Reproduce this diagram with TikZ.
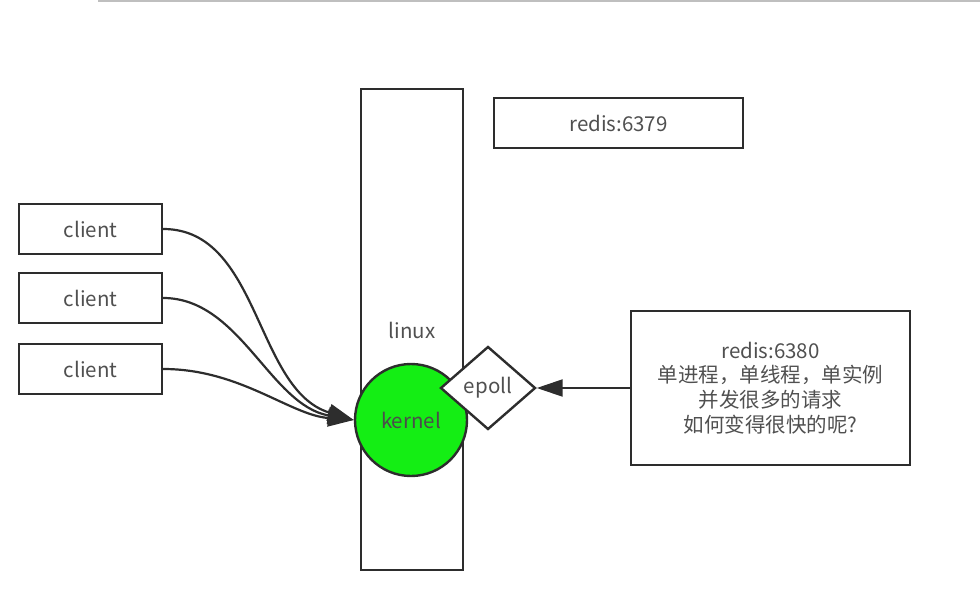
\documentclass[tikz,border=0pt]{standalone}
\usepackage{fontspec}
\setmainfont{Noto Sans CJK SC}
\usetikzlibrary{shapes.geometric,arrows.meta,positioning}
\definecolor{kgreen}{RGB}{20,238,20}
\definecolor{linegray}{RGB}{45,45,45}
\definecolor{textgray}{RGB}{80,80,80}

\begin{document}
\begin{tikzpicture}[
    x=1pt, y=-1pt,
    every node/.style={font=\fontsize{20.5}{24.7}\selectfont, text=textgray},
    box/.style={rectangle, draw=linegray, line width=2.4pt, inner sep=0pt},
    arrow/.style={-{Triangle[length=26pt,width=17pt]}, line width=2.2pt, draw=linegray}
]
    \useasboundingbox (0,0) rectangle (980,605);
    \draw[gray!50, line width=1.5pt] (98,1) -- (980,1);

    \node[box, minimum width=102pt, minimum height=481pt] (linux) at (412,329.5) {};
    \node at (412,330) {linux};
    \node[box, minimum width=249pt, minimum height=50pt] (redisa) at (618.5,123) {redis:6379};

    \node[box, minimum width=143pt, minimum height=50pt] (c1) at (90.5,229) {client};
    \node[box, minimum width=143pt, minimum height=50pt] (c2) at (90.5,298) {client};
    \node[box, minimum width=143pt, minimum height=50pt] (c3) at (90.5,369) {client};

    \node[circle, draw=linegray, line width=2.4pt, fill=kgreen, minimum size=112pt, inner sep=0pt, text=black!70] (kernel) at (411,420) {kernel};
    \node[diamond, draw=linegray, line width=2.4pt, fill=white, minimum width=95pt, minimum height=83pt, inner sep=0pt] (epoll) at (488,388) {epoll};

    \node[box, minimum width=279pt, minimum height=154pt, align=center] (redisb) at (770.5,388) {redis:6380\\单进程，单线程，单实例\\并发很多的请求\\如何变得很快的呢?};

    \draw[arrow] (c1.east) .. controls (260,229) and (255,390) .. (kernel.west);
    \draw[arrow] (c2.east) .. controls (240,298) and (270,405) .. (kernel.west);
    \draw[arrow] (c3.east) .. controls (240,369) and (290,415) .. (kernel.west);
    \draw[arrow] (redisb.west) -- (epoll.east);
\end{tikzpicture}
\end{document}
